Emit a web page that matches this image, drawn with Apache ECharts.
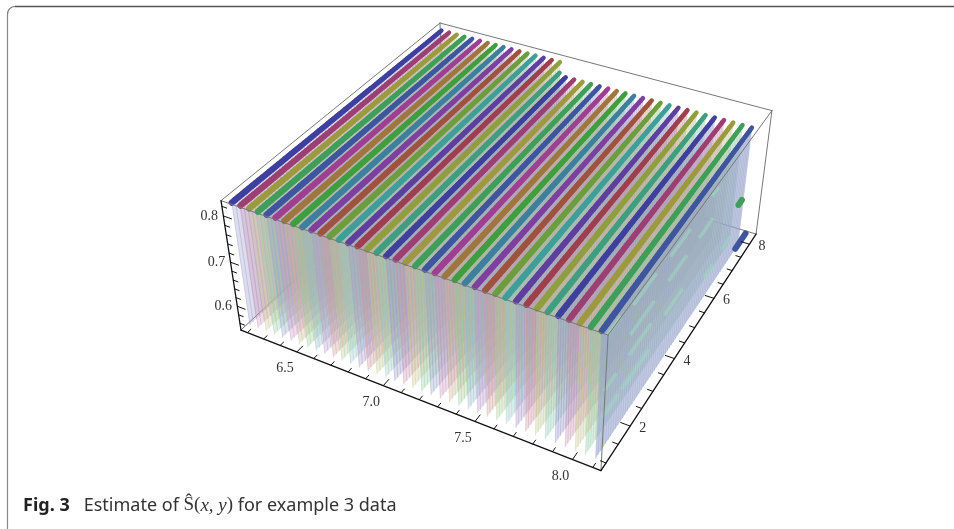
<!DOCTYPE html>
<html><head><meta charset="utf-8">
<style>html,body{margin:0;padding:0;background:#fff}#c{width:954px;height:529px}</style>
<script src="https://cdn.jsdelivr.net/npm/echarts@6/dist/echarts.min.js"></script>
</head><body><div id="c"></div>
<script>
// ---- data ----
const xValues=[6.2,6.25,6.3,6.35,6.4,6.45,6.5,6.55,6.6,6.65,6.7,6.75,6.8,6.85,6.9,6.95,7.0,7.05,7.1,7.15,7.2,7.25,7.3,7.35,7.4,7.45,7.5,7.55,7.6,7.65,7.7,7.75,7.8,7.85,7.9,7.95,8.0,8.05,8.1];
const zTop=[0.827,0.827,0.827,0.827,0.827,0.827,0.827,0.827,0.827,0.827,0.827,0.827,0.827,0.827,0.827,0.827,0.827,0.827,0.827,0.827,0.827,0.827,0.827,0.827,0.827,0.827,0.827,0.827,0.827,0.827,0.827,0.827,0.827,0.827,0.827,0.827,0.827,0.827,0.827];
const zBase=[0.556];
const yGrid=[0.9,1,1.1,1.2,1.3,1.4,1.5,1.6,1.7,1.8,1.9,2,2.1,2.2,2.3,2.4,2.5,2.6,2.7,2.8,2.9,3,3.1,3.2,3.3,3.4,3.5,3.6,3.7,3.8,3.9,4,4.1,4.2,4.3,4.4,4.5,4.6,4.7,4.8,4.9,5,5.1,5.2,5.3,5.4,5.5,5.6,5.7,5.8,5.9,6,6.1,6.2,6.3,6.4,6.5,6.6,6.7,6.8,6.9,7,7.1,7.2,7.3,7.4,7.5,7.6,7.7,7.8,7.9,8,8.1,8.2];
const yEnd=[8.2,8.2,8.2,8.2,8.2,8.2,8.2,8.2,8.2,8.2,8.2,8.2,8.2,8.2,8.2,8.2,7.8,7.7,7.7,7.7,7.7,7.7,7.7,7.7,7.7,7.7,7.7,7.7,7.7,7.7,7.7,7.7,7.7,7.7,7.7,7.7,7.7,7.7,7.7];
const lowX=[8.1,8.05];
const lowY0=[7.55,8.05];
const lowY1=[8.15,8.25];
const lowZ=[0.556,0.625];
const streakY0=[5.7,5.2,3.75,3.75,6.65,5.72,2.16,2.1,3.7,1.1,2.1,1.9,1.1,1.1];
const streakY1=[6.05,5.9,4.67,4.6,7.15,6.2,3.13,3.13,4.55,1.65,3.06,3.05,1.6,1.75];
const streakZ=[0.79,0.731,0.783,0.731,0.613,0.607,0.789,0.731,0.66,0.803,0.688,0.63,0.688,0.63];
const palette=['#3f3f9e','#9c3f72','#9c9a3f','#3f9e5a','#3f559e','#9e3f90','#9e773f','#3f9e3f','#3f7f9e','#7f3f9e','#9e533f','#6a9e3f','#3f9e9a','#5f3f9e','#9e3f4f','#8f9e3f','#3f9e7f'];
const xMajor=[6.5,7.0,7.5,8.0];
const xMinor=[6.2,6.3,6.4,6.6,6.7,6.8,6.9,7.1,7.2,7.3,7.4,7.6,7.7,7.8,7.9,8.1];
const yMajor=[2,4,6,8];
const yMinor=[1,1.5,2.5,3,3.5,4.5,5,5.5,6.5,7,7.5];
const zMajor=[0.6,0.7,0.8];
const zMinor=[0.56,0.58,0.62,0.64,0.66,0.68,0.72,0.74,0.76,0.78,0.82];
const xRange=[6.16,8.14], yRange=[0.8,8.4], zRange=[0.544,0.832];
// ---- camera: projected cube corners ----
const corners=[[0,0,0,241,330],[1,0,0,601,470.7],[1,0,1,608,335],[1,1,1,772,110.7],[1,1,0,756,234],[0,1,1,440,23],[0,0,1,221,200.7]];
function solveCamera(){
  const A=[],b=[];
  corners.forEach(c=>{const [u,v,w,sx,sy]=c;
    A.push([u,v,w,1,0,0,0,0,-sx*u,-sx*v,-sx*w]);b.push(sx);
    A.push([0,0,0,0,u,v,w,1,-sy*u,-sy*v,-sy*w]);b.push(sy);});
  const n=11,M=[];
  for(let i=0;i<n;i++){M.push([]);for(let j=0;j<n;j++){let s=0;for(let k=0;k<A.length;k++)s+=A[k][i]*A[k][j];M[i].push(s);}
    let s=0;for(let k=0;k<A.length;k++)s+=A[k][i]*b[k];M[i].push(s);}
  for(let i=0;i<n;i++){let p=i;for(let r=i+1;r<n;r++)if(Math.abs(M[r][i])>Math.abs(M[p][i]))p=r;[M[i],M[p]]=[M[p],M[i]];
    for(let r=0;r<n;r++){if(r===i)continue;const f=M[r][i]/M[i][i];for(let c=i;c<=n;c++)M[r][c]-=f*M[i][c];}}
  return M.map((r,i)=>r[n]/r[i]);
}
const P=solveCamera();
function proj(u,v,w){const d=P[8]*u+P[9]*v+P[10]*w+1;return [(P[0]*u+P[1]*v+P[2]*w+P[3])/d,(P[4]*u+P[5]*v+P[6]*w+P[7])/d];}
const U=x=>(x-xRange[0])/(xRange[1]-xRange[0]),V=y=>(y-yRange[0])/(yRange[1]-yRange[0]),W=z=>(z-zRange[0])/(zRange[1]-zRange[0]);
function screen(api,x,y,z){return api.coord(proj(U(x),V(y),W(z)));}
function cube(api,u,v,w){return api.coord(proj(u,v,w));}
const line=(a,b,color,width,op)=>({type:'line',silent:true,shape:{x1:a[0],y1:a[1],x2:b[0],y2:b[1]},style:{stroke:color,lineWidth:width,opacity:op==null?1:op,lineCap:'round'}});
const label=(t,p)=>({type:'text',silent:true,style:{text:t,x:p[0],y:p[1],fill:'#333',fontSize:14,fontFamily:'Liberation Serif',align:'center',verticalAlign:'middle'}});
function pale(hex,f){const n=parseInt(hex.slice(1),16),c=[n>>16,(n>>8)&255,n&255].map(v=>Math.round(v+(255-v)*f));return 'rgb('+c.join(',')+')';}

function renderBack(params,api){
  const e=[];const c=(u,v,w)=>cube(api,u,v,w);
  [[[0,0,0],[0,1,0]],[[0,1,0],[1,1,0]],[[0,1,0],[0,1,1]],[[0,1,1],[1,1,1]],[[0,1,1],[0,0,1]],[[1,1,0],[1,1,1]]].forEach(s=>e.push(line(c(...s[0]),c(...s[1]),'#777',1)));
  return {type:'group',children:e};
}
function renderSheet(params,api){
  const i=api.value(0),x=xValues[i],zt=zTop[i],zb=zBase[0],ye=yEnd[i],col=palette[i%palette.length],soft=pale(col,0.45);
  const grid=yGrid.filter(y=>y<=ye+1e-6);
  const top=grid.map(y=>screen(api,x,y,zt)),bot=grid.map(y=>screen(api,x,y,zb));
  const e=[{type:'polygon',silent:true,shape:{points:top.concat(bot.slice().reverse())},style:{fill:soft,opacity:i===xValues.length-1?0.55:0.32}}];
  for(let k=0;k<top.length;k++)e.push(line(top[k],bot[k],soft,1,0.4));
  for(let k=0;k+1<top.length;k++)e.push(line(top[k],top[k+1],col,6.3-2*V(grid[k])));
  return {type:'group',children:e};
}
function renderLow(params,api){
  const i=api.value(0);const k=Math.round((lowX[i]-xValues[0])/0.05);
  const a=screen(api,lowX[i],lowY0[i],lowZ[i]),b=screen(api,lowX[i],lowY1[i],lowZ[i]);
  return {type:'polyline',silent:true,shape:{points:[a,b]},style:{stroke:palette[k%palette.length],lineWidth:6,lineCap:'round',fill:null}};
}
function renderStreak(params,api){
  const i=api.value(0);const x=xValues[xValues.length-1];
  const a=screen(api,x,streakY0[i],streakZ[i]),b=screen(api,x,streakY1[i],streakZ[i]);
  return {type:'polyline',silent:true,shape:{points:[a,b]},style:{stroke:'#9fd6c0',lineWidth:3.6,opacity:0.6,fill:null}};
}
function renderFront(params,api){
  const e=[];const c=(u,v,w)=>cube(api,u,v,w);
  [[[0,0,1],[1,0,1]],[[1,0,1],[1,1,1]],[[1,0,0],[1,0,1]]].forEach(s=>e.push(line(c(...s[0]),c(...s[1]),'#777',1)));
  [[[0,0,0],[1,0,0]],[[1,0,0],[1,1,0]],[[0,0,0],[0,0,1]]].forEach(s=>e.push(line(c(...s[0]),c(...s[1]),'#111',1.3)));
  const m=0.024,n=0.014;
  xMinor.forEach(x=>e.push(line(c(U(x),0,0),c(U(x),n,0),'#111',1)));
  xMajor.forEach(x=>{e.push(line(c(U(x),0,0),c(U(x),m,0),'#111',1));const p=c(U(x),0,0);e.push(label(x.toFixed(1),[p[0]-12,p[1]+16.5]));});
  yMinor.forEach(y=>e.push(line(c(1,V(y),0),c(1-n,V(y),0),'#111',1)));
  yMajor.forEach(y=>{e.push(line(c(1,V(y),0),c(1-m,V(y),0),'#111',1));const p=c(1,V(y),0);e.push(label(String(y),[p[0]+12.5,p[1]+2.5]));});
  zMinor.forEach(z=>e.push(line(c(0,0,W(z)),c(n,0,W(z)),'#111',1)));
  zMajor.forEach(z=>{e.push(line(c(0,0,W(z)),c(m,0,W(z)),'#111',1));const p=c(0,0,W(z));e.push(label(z.toFixed(1),[p[0]-14,p[1]]));});
  return {type:'group',children:e};
}
const chart=echarts.init(document.getElementById('c'),null,{renderer:'canvas'});
const custom=(renderItem,data)=>({type:'custom',coordinateSystem:'cartesian2d',renderItem,data,clip:false,silent:true,animation:false,progressive:0,encode:{x:1,y:2}});
const cap={color:'#333',fontSize:18,fontFamily:'Noto Sans',fontWeight:'normal'};
const mth={color:'#333',fontSize:19,fontFamily:'Liberation Serif',fontWeight:'normal'};
chart.setOption({
  animation:false,
  grid:{left:0,right:0,top:0,bottom:0},
  xAxis:{type:'value',min:0,max:954,show:false},
  yAxis:{type:'value',min:0,max:529,inverse:true,show:false},
  title:{left:23,top:496,padding:0,text:'{b|Fig. 3}{r|   Estimate of }{m|Ŝ(}{i|x, y}{m|)}{r| for example 3 data}',
    textStyle:{rich:{b:{...cap,fontWeight:'bold',color:'#222'},r:cap,m:mth,i:{...mth,fontStyle:'italic'}}}},
  graphic:[
    {type:'line',silent:true,shape:{x1:7.5,y1:529,x2:7.5,y2:14},style:{stroke:'#888',lineWidth:1.2}},
    {type:'arc',silent:true,shape:{cx:15,cy:14,r:7.5,startAngle:Math.PI,endAngle:Math.PI*1.5},style:{stroke:'#777',lineWidth:1.2,fill:null}},
    {type:'line',silent:true,shape:{x1:15,y1:6.5,x2:954,y2:6.5},style:{stroke:'#555',lineWidth:1.3}}
  ],
  series:[
    custom(renderBack,[[0,0,0]]),
    custom(renderSheet,xValues.map((x,i)=>[i,0,0])),
    custom(renderLow,lowX.map((x,i)=>[i,0,0])),
    custom(renderStreak,streakZ.map((x,i)=>[i,0,0])),
    custom(renderFront,[[0,0,0]])
  ]
});
</script></body></html>
